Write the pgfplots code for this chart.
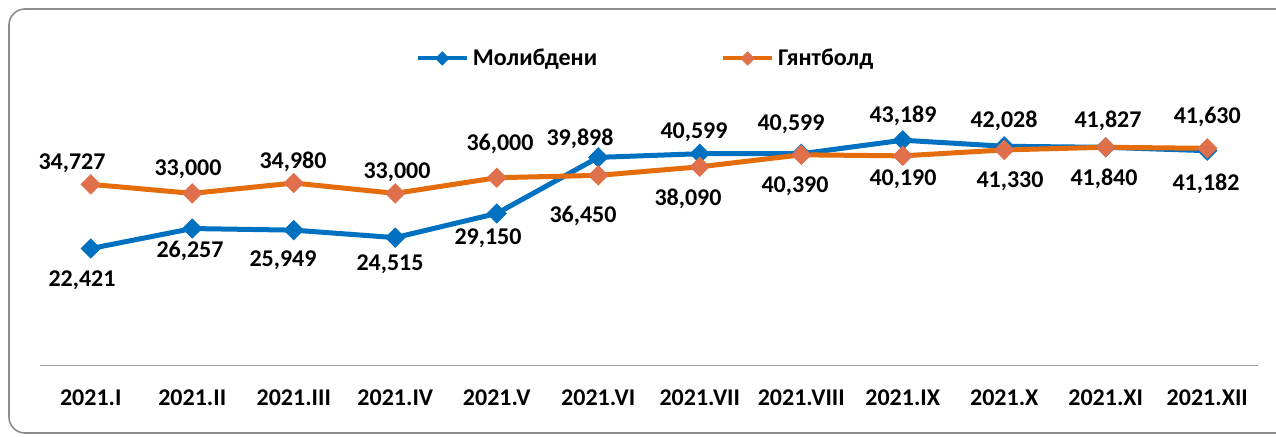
\documentclass[border=0pt]{standalone}
\usepackage{fontspec}
\setmainfont{Carlito}
\usepackage{pgfplots}
\usepackage{pgfplotstable}
\pgfplotsset{compat=1.18}
\definecolor{mblue}{HTML}{0070C0}
\definecolor{morange}{HTML}{E46C0A}
\definecolor{morangem}{HTML}{E0704B}
\definecolor{frame}{HTML}{8C8C8C}
\definecolor{axl}{HTML}{A0A0A0}

\pgfplotstableread{
x y dx dy label
0  22421 -4.35 -15.3  22,421
1  26257 -1.1  -10.75 26,257
2  25949 -5.35 -14.5  25,949
3  24515 -2.6  -12.75 24,515
4  29150 -4.35 -11.8  29,150
5  39898 -9.1   9.75  39,898
6  40599 -2.85 11.45  40,599
7  40599 -5.1  15.45  40,599
8  43189  0.15 12.7   43,189
9  42028 -0.1  13.25  42,028
10 41827  1.15 13.75  41,827
11 41182 -0.6 -16.05  41,182
}\moly

\pgfplotstableread{
x y dx dy label
0  34727 -9.35  11.2  34,727
1  33000 -2.1   12.7  33,000
2  34980 -0.35  11.05 34,980
3  33000  0.9   11.2  33,000
4  36000  1.65  17.4  36,000
5  36450 -7.6  -19.75 36,450
6  38090 -5.85 -15.55 38,090
7  40390 -3.1  -15    40,390
8  40190  0.15 -11    40,190
9  41330  2.9  -14.95 41,330
10 41840 -0.85 -15.3  41,840
11 41630  0     16.25 41,630
}\gyant

\begin{document}
\begin{tikzpicture}[font=\bfseries\fontsize{12}{14}\selectfont]
\useasboundingbox (0,0) rectangle (638pt,218pt);
\draw[frame, line width=0.8pt, rounded corners=8pt] (4.5pt,1.5pt) rectangle (650pt,213.5pt);
\begin{axis}[
  at={(20pt,35.25pt)}, anchor=south west,
  scale only axis, width=609pt, height=156.5pt,
  xmin=-0.5, xmax=11.5, ymin=0, ymax=60000,
  axis x line*=bottom, axis y line=none,
  x axis line style={axl, line width=0.8pt, -},
  xtick={0,...,11},
  xticklabels={2021.I,2021.II,2021.III,2021.IV,2021.V,2021.VI,2021.VII,2021.VIII,2021.IX,2021.X,2021.XI,2021.XII},
  major tick length=0pt,
  xticklabel style={anchor=base, yshift=-19.75pt, font=\bfseries\fontsize{12}{14}\selectfont},
  ytick=\empty,
  clip=false,
  point meta=explicit symbolic,
  nodes near coords={\pgfplotspointmeta},
  visualization depends on={\thisrow{dx} \as \dx},
  visualization depends on={\thisrow{dy} \as \dy},
  every node near coord/.append style={anchor=base, xshift=\dx pt, yshift=\dy pt-3.8pt, text=black, font=\bfseries\fontsize{12}{14}\selectfont, inner sep=0pt},
  legend columns=2,
  legend style={at={(0.498,0.981)}, anchor=center, draw=none, fill=none,
    font=\bfseries\fontsize{12}{14}\selectfont,
    /tikz/every even column/.append style={column sep=60pt}},
  legend image code/.code={\draw[mark repeat=2,mark phase=2,#1,line width=2pt,mark size=2.3pt] plot coordinates {(0cm,0cm) (0.43cm,0cm) (0.86cm,0cm)};},
]
\addplot[mblue, line width=2.5pt, mark=square*, mark size=3.35pt,
  mark options={rotate=45, fill=mblue, draw=mblue, line width=0.5pt}]
  table[x=x, y=y, meta=label] {\moly};
\addlegendentry{Молибдени}
\addplot[morange, line width=2.5pt, mark=square*, mark size=3.35pt,
  mark options={rotate=45, fill=morangem, draw=morangem, line width=0.5pt}]
  table[x=x, y=y, meta=label] {\gyant};
\addlegendentry{Гянтболд}
\end{axis}
\end{tikzpicture}
\end{document}
